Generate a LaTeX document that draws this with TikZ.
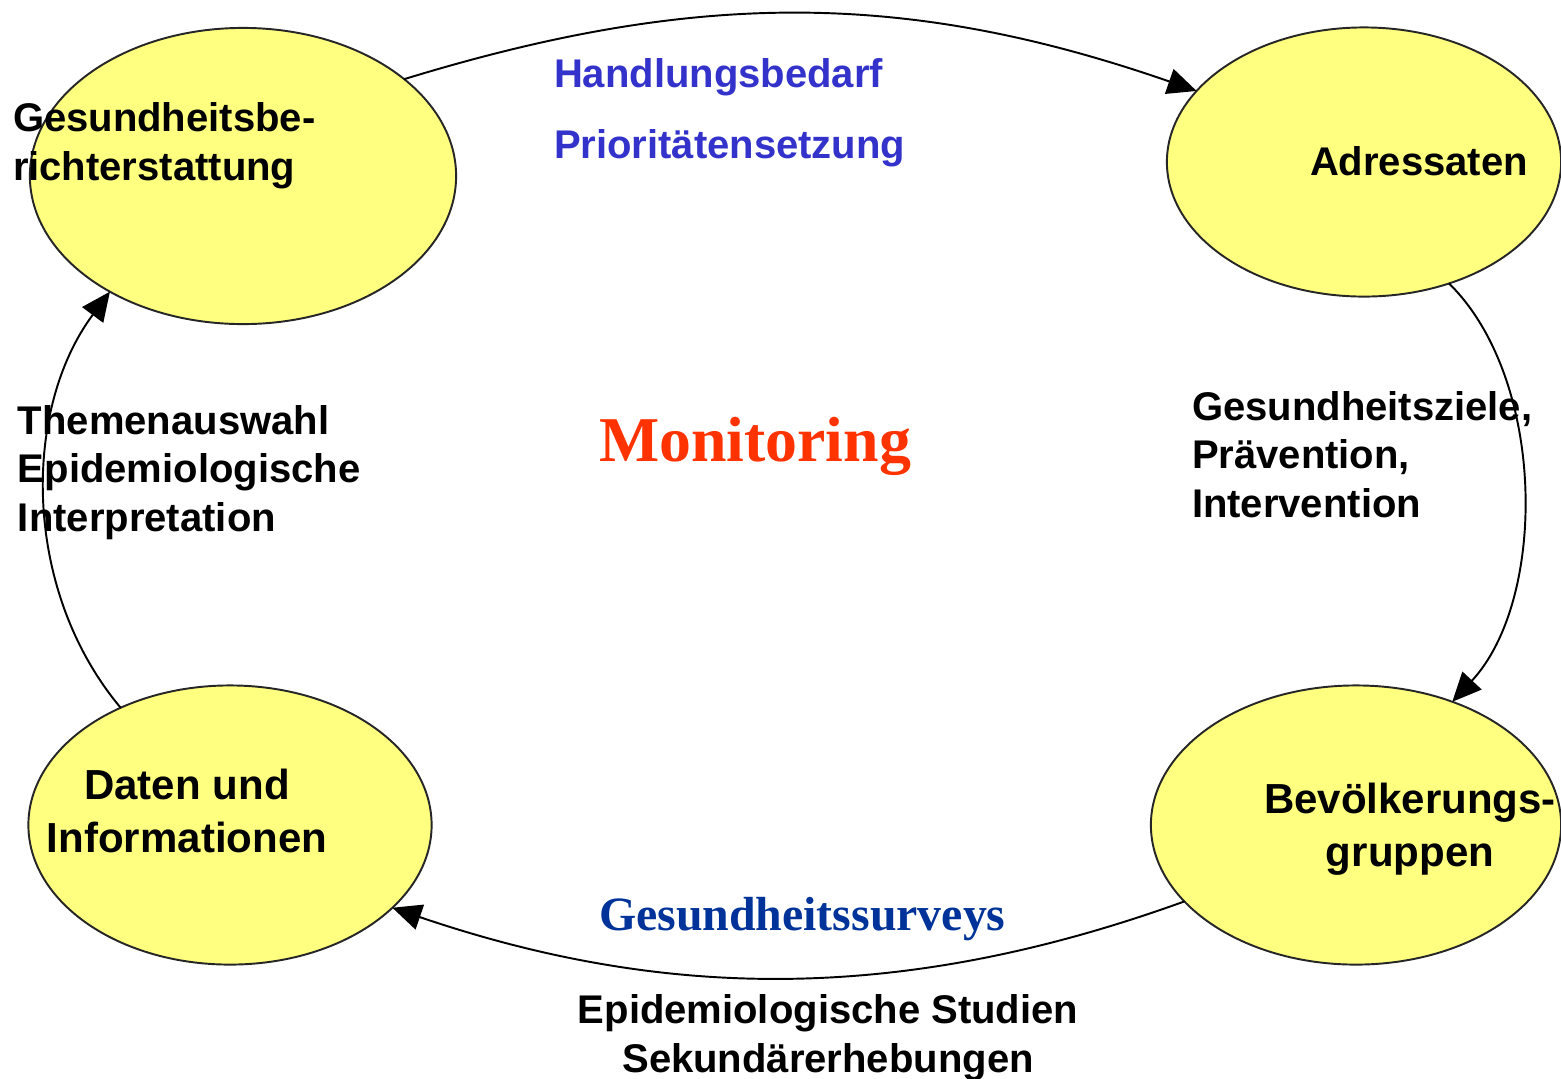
\documentclass[tikz,border=0pt]{standalone}
\usepackage{fontspec}
\usepackage{xcolor}
\usepackage{tikz}
\usetikzlibrary{positioning,arrows.meta,shapes.geometric}
\newfontfamily\arialfont{Liberation Sans}
\newfontfamily\timesfont{Liberation Serif}
\definecolor{blobfill}{RGB}{255,255,128}
\definecolor{prioblue}{RGB}{51,51,204}
\definecolor{monred}{RGB}{255,51,0}
\definecolor{surveyblue}{RGB}{0,51,153}

\begin{document}
\begin{tikzpicture}[
  x=0.01cm,y=-0.01cm,
  blob/.style={draw=black!85,fill=blobfill,ellipse,line width=0.55pt,
               inner sep=0pt,outer sep=0pt},
  lab/.style={font=\arialfont\bfseries\fontsize{11.38}{13.66}\selectfont,
              inner sep=0pt,outer sep=0pt,align=left,anchor=base west},
  biglab/.style={font=\arialfont\bfseries\fontsize{11.95}{14.8}\selectfont,
              inner sep=0pt,outer sep=0pt,align=center,anchor=base},
  arr/.style={-{Triangle[length=2.9mm,width=2.6mm]},line width=0.55pt,black},
]
\useasboundingbox (0,0) rectangle (1561,1078);

% the four stations
\node[blob,minimum width=4.26cm,minimum height=2.96cm] (gbe) at (243,176) {};
\node[blob,minimum width=3.94cm,minimum height=2.69cm] (adr) at (1364,162) {};
\node[blob,minimum width=4.03cm,minimum height=2.79cm] (dat) at (230,825) {};
\node[blob,minimum width=4.10cm,minimum height=2.79cm] (bev) at (1356,825) {};

% texts in and around the stations (base = last line)
\node[lab] (gbetext) at (13,180) {Gesundheitsbe-\\richterstattung};
\node[lab] (adrtext) at (1310,175) {Adressaten};
\node[biglab] (dattext) at (187,852) {Daten und\\Informationen};
\node[biglab] (bevtext) at (1410,866) {Bevölkerungs-\\gruppen};

% texts along the cycle
\node[lab,text=prioblue] (hbd) at (554,87) {Handlungsbedarf};
\node[lab,text=prioblue] (prio) at (554,158) {Prioritätensetzung};
\node[lab] (ziele) at (1192,517) {Gesundheitsziele,\\Prävention,\\Intervention};
\node[lab] (themen) at (18,531) {Themenauswahl\\Epidemiologische\\Interpretation};
\node[lab,font=\timesfont\bfseries\fontsize{13.6}{16}\selectfont,text=surveyblue]
  (surveys) at (599,930) {Gesundheitssurveys};
\node[lab,align=center,anchor=base] (studien) at (828,1072)
  {Epidemiologische Studien\\Sekundärerhebungen};

\node[lab,font=\timesfont\bfseries\fontsize{18.15}{20}\selectfont,text=monred]
  (monit) at (599,461) {Monitoring};

% the cycle
\draw[arr] (gbe.31) .. controls (695,-10) and (906,-10) .. (adr.157);
\draw[arr] (adr.-55) .. controls (1547,380) and (1547,600) .. (bev.52);
\draw[arr] (bev.204) .. controls (906,1002) and (669,1002) .. (dat.333);
\draw[arr] (dat.133) .. controls (22,590) and (22,410) .. (gbe.221);
\end{tikzpicture}
\end{document}
